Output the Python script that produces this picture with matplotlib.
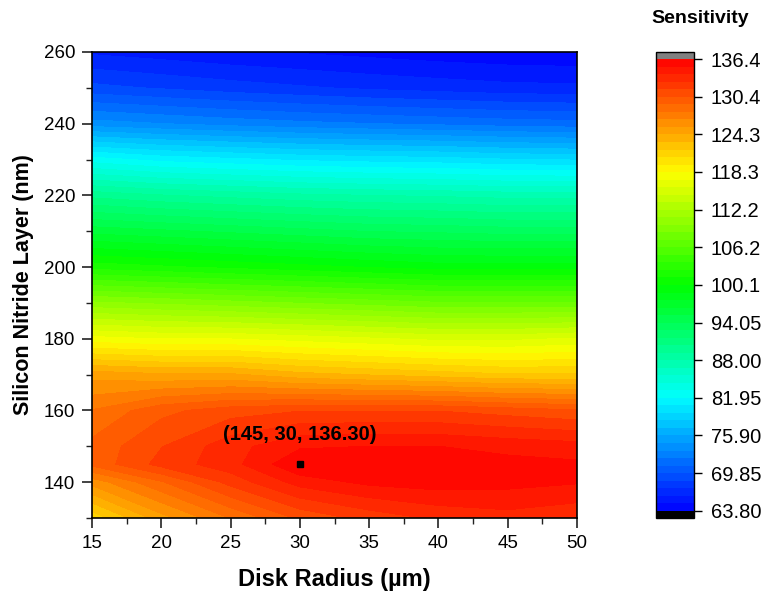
import numpy as np
import matplotlib
matplotlib.use("Agg")
import matplotlib.pyplot as plt
from matplotlib.colors import LinearSegmentedColormap

plt.rcParams['font.family'] = ['Liberation Sans', 'DejaVu Sans']

# Data
disk_radius = [15, 20, 25, 30, 35, 40, 45, 50]
sin_layer = [130, 140, 145, 150, 160, 170, 180, 190, 200, 210, 220, 230, 240, 250, 260]
sensitivity = [
    [121.0, 125.0, 128.0, 130.6, 132.0, 133.0, 133.5, 133.0],   # 130
    [126.0, 129.0, 132.0, 134.5, 135.5, 135.8, 135.6, 135.3],   # 140
    [129.5, 132.0, 133.5, 136.3, 135.8, 135.9, 135.6, 135.4],   # 145
    [129.5, 131.5, 133.5, 135.0, 135.2, 135.2, 134.8, 134.5],   # 150
    [128.0, 130.0, 131.0, 131.5, 131.5, 131.5, 131.0, 130.5],   # 160
    [125.0, 124.5, 124.5, 123.5, 123.0, 122.5, 122.0, 122.0],   # 170
    [117.5, 117.0, 117.0, 116.5, 116.0, 115.5, 115.5, 116.0],   # 180
    [110.0, 109.5, 109.0, 108.5, 108.0, 107.5, 107.5, 107.5],   # 190
    [102.0, 101.5, 101.0, 100.5, 100.0, 99.5, 99.5, 99.5],      # 200
    [96.0, 95.5, 95.0, 94.5, 94.0, 93.8, 93.5, 93.5],           # 210
    [90.0, 89.3, 88.8, 88.3, 88.0, 87.8, 87.5, 87.5],           # 220
    [82.5, 81.5, 81.0, 80.5, 80.2, 80.0, 79.6, 79.4],           # 230
    [74.0, 73.5, 73.0, 72.6, 72.3, 72.0, 71.7, 71.5],           # 240
    [69.0, 68.5, 68.0, 67.6, 67.2, 66.9, 66.6, 66.5],           # 250
    [66.0, 65.6, 65.2, 64.9, 64.6, 64.3, 64.1, 64.0],           # 260
]
cbar_ticks = [63.80, 69.85, 75.90, 81.95, 88.00, 94.05, 100.1, 106.2, 112.2, 118.3, 124.3, 130.4, 136.4]
cbar_ticklabels = ["63.80", "69.85", "75.90", "81.95", "88.00", "94.05", "100.1",
                   "106.2", "112.2", "118.3", "124.3", "130.4", "136.4"]
peak_x, peak_y, peak_val = 30, 145, 136.30
peak_label = "(145, 30, 136.30)"

X, Y = np.meshgrid(disk_radius, sin_layer)
Z = np.array(sensitivity)

cmap = LinearSegmentedColormap.from_list(
    "origin_rainbow", ["#0000ff", "#00ffff", "#00ff00", "#ffff00", "#ff0000"])
cmap.set_over("#808080")
cmap.set_under("#000000")
levels = np.linspace(63.8, 136.4, 61)

fig = plt.figure(figsize=(7.65, 5.96), dpi=100)
ax = fig.add_axes([0.1203, 0.1309, 0.634, 0.7819])
cs = ax.contourf(X, Y, Z, levels=levels, cmap=cmap, extend='both')

ax.plot([peak_x], [peak_y], marker='s', color='black', markersize=5, linestyle='none')
ax.text(peak_x, 153.2, peak_label, ha='center', va='center', fontsize=14.5, fontweight='bold')

ax.set_xlim(15, 50)
ax.set_ylim(130, 260)
ax.set_xticks(np.arange(15, 51, 5))
ax.set_yticks(np.arange(140, 261, 20))
ax.set_xticks(np.arange(17.5, 50, 5), minor=True)
ax.set_yticks(np.arange(130, 261, 10), minor=True)
ax.tick_params(which='major', direction='out', length=7, width=1.2, pad=5,
               labelsize=13.5, color='#222222')
ax.tick_params(which='minor', direction='out', length=4, width=1.0, color='#222222')
for s in ax.spines.values():
    s.set_linewidth(1.2)
ax.set_xlabel("Disk Radius (µm)", fontsize=17, fontweight='bold', labelpad=12)
ax.set_ylabel("Silicon Nitride Layer (nm)", fontsize=15.5, fontweight='bold', labelpad=7)

cax = fig.add_axes([0.8575, 0.1309, 0.0497, 0.7819])
cb = fig.colorbar(cs, cax=cax, extend='both', extendrect=True, extendfrac=0.016)
cb.set_ticks(cbar_ticks)
cb.set_ticklabels(cbar_ticklabels)
cb.ax.tick_params(direction='out', length=6, width=1.0, pad=6, labelsize=14.5)
cb.outline.set_linewidth(1.0)
cb.ax.minorticks_off()
fig.text(0.915, 0.969, "Sensitivity", ha='center', va='center', fontsize=14, fontweight='bold')

fig.savefig("out.png", dpi=100)
